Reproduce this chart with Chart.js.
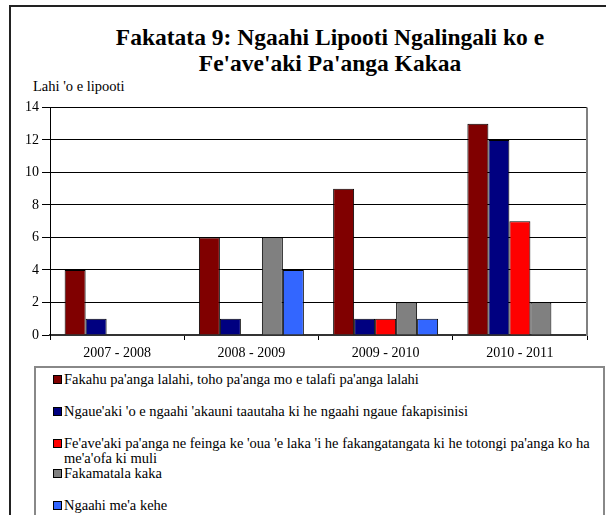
<!DOCTYPE html>
<html>
<head>
<meta charset="utf-8">
<script src="https://cdn.jsdelivr.net/npm/chart.js@4/dist/chart.umd.min.js"></script>
<style>
  body { margin: 0; width: 606px; height: 515px; overflow: hidden; position: relative; background: #fff; font-family: "Liberation Serif", "Times New Roman", serif; }
  #frame { position: absolute; left: 9px; top: 5px; width: 620px; height: 540px; border: 2px solid #222; }
  #title { position: absolute; left: 30px; width: 600px; top: 24px; text-align: center; font-weight: bold; font-size: 23.5px; line-height: 26px; color: #000; }
  #yLabel { position: absolute; left: 33px; top: 78px; font-size: 14.5px; line-height: 16px; }
  #chartBox { position: absolute; left: 0; top: 96px; width: 606px; height: 269px; }
  #legend { position: absolute; left: 34px; top: 366px; width: 567px; height: 160px; border: 2px solid #888; border-bottom: none; }
  #legend div { position: relative; margin-left: 28px; width: 540px; font-size: 14.5px; line-height: 15px; margin-bottom: 17px; }
  #legend div.tight { margin-bottom: 0; }
  #legend i { position: absolute; left: -11px; top: 3px; width: 7px; height: 7px; border: 1px solid #000; }
</style>
</head>
<body>
<div id="frame"></div>
<div id="title">Fakatata 9: Ngaahi Lipooti Ngalingali ko e<br>Fe'ave'aki Pa'anga Kakaa</div>
<div id="yLabel">Lahi 'o e lipooti</div>
<div id="chartBox"><canvas id="reportChart"></canvas></div>
<div id="legend"></div>
<script>
const years = ['2007 - 2008', '2008 - 2009', '2009 - 2010', '2010 - 2011'];
const seriesNames = [
  "Fakahu pa'anga lalahi, toho pa'anga mo e talafi pa'anga lalahi",
  "Ngaue'aki 'o e ngaahi 'akauni taautaha ki he ngaahi ngaue fakapisinisi",
  "Fe'ave'aki pa'anga ne feinga ke 'oua 'e laka 'i he fakangatangata ki he totongi pa'anga ko ha me'a'ofa ki muli",
  "Fakamatala kaka",
  "Ngaahi me'a kehe"
];
const largeCash = [4, 6, 9, 13];
const personalAccounts = [1, 1, 1, 12];
const underThreshold = [0, 0, 1, 7];
const falseStatements = [0, 6, 2, 2];
const otherReports = [0, 4, 1, 0];
const seriesColors = ['#800000', '#000080', '#ff0000', '#808080', '#3366ff'];
const yMax = 14;
const yStep = 2;

const seriesValues = [largeCash, personalAccounts, underThreshold, falseStatements, otherReports];

// right edge of the plot area is a grey line
const plotEdge = {
  id: 'plotEdge',
  afterDraw(chart) {
    const { ctx, chartArea } = chart;
    ctx.save();
    ctx.strokeStyle = '#808080';
    ctx.lineWidth = 2;
    ctx.beginPath();
    ctx.moveTo(chartArea.right, chartArea.top);
    ctx.lineTo(chartArea.right, chartArea.bottom + 1);
    ctx.stroke();
    ctx.restore();
  }
};

const ctx = document.getElementById('reportChart').getContext('2d');
new Chart(ctx, {
  type: 'bar',
  data: {
    labels: years,
    datasets: seriesValues.map((values, i) => ({
      label: seriesNames[i],
      data: values,
      backgroundColor: seriesColors[i],
      borderColor: '#000',
      borderWidth: c => (c.raw ? 1 : 0),
      barPercentage: 1,
      categoryPercentage: 0.782
    }))
  },
  options: {
    responsive: true,
    maintainAspectRatio: false,
    animation: false,
    layout: { padding: { top: 8, right: 19, bottom: 0, left: 0 } },
    plugins: {
      legend: { display: false },
      tooltip: { enabled: false }
    },
    scales: {
      x: {
        afterFit: axis => { axis.height = 30; },
        grid: { offset: true, drawOnChartArea: false, color: '#000', tickLength: 5 },
        border: { color: '#333', width: 2 },
        ticks: { color: '#000', padding: 5, font: { family: 'Liberation Serif', size: 14 } }
      },
      y: {
        min: 0,
        max: yMax,
        afterFit: axis => { axis.width = 50; },
        grid: { color: '#000', tickLength: 8 },
        border: { color: '#000', width: 1 },
        ticks: { stepSize: yStep, color: '#000', padding: 3, font: { family: 'Liberation Serif', size: 14 } }
      }
    }
  },
  plugins: [plotEdge]
});

// legend drawn in html, like the original box under the plot
const legendBox = document.getElementById('legend');
legendBox.style.paddingTop = '4px';
seriesNames.forEach((name, i) => {
  const item = document.createElement('div');
  if (i === 2) item.className = 'tight';
  item.innerHTML = `<i style="background-color:${seriesColors[i]}"></i>${name}`;
  legendBox.appendChild(item);
});
</script>
</body>
</html>
